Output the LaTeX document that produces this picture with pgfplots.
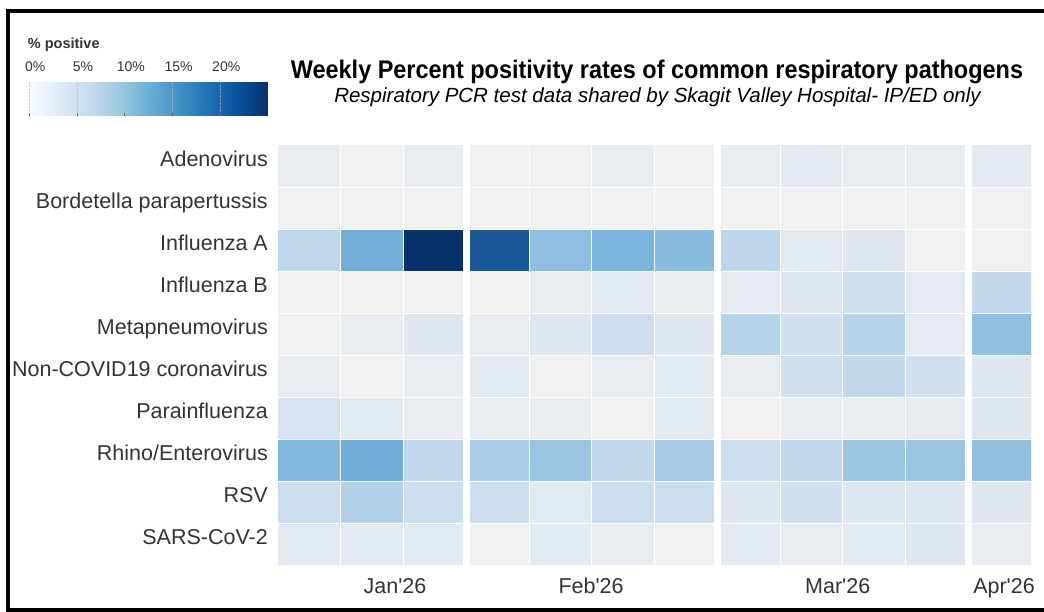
\documentclass[border=0pt]{standalone}
\usepackage{pgfplots}
\pgfplotsset{compat=1.18}
\usepackage{pgfplotstable}
\usepackage{fontspec}
\setmainfont{Liberation Sans}
\newfontfamily\titlefam{Liberation Sans}[FakeStretch=0.92]

\pgfplotstableread{
x y v
0 0 1
1 0 0
2 0 1
3 0 0
4 0 0
5 0 1
6 0 0
7 0 1
8 0 1.5
9 0 1
10 0 1
11 0 1.5
0 1 0
1 1 0
2 1 0
3 1 0
4 1 0
5 1 0
6 1 0
7 1 0
8 1 0
9 1 0
10 1 0
11 1 0
0 2 6.5
1 2 12.8
2 2 25
3 2 21
4 2 10.3
5 2 12
6 2 10.9
7 2 7
8 2 1.5
9 2 2
10 2 0
11 2 0
0 3 0
1 3 0
2 3 0
3 3 0
4 3 1
5 3 1.5
6 3 0.8
7 3 1.3
8 3 2
9 3 4
10 3 1.3
11 3 6
0 4 0
1 4 1
2 4 2
3 4 1
4 4 2
5 4 4.5
6 4 2
7 4 7.5
8 4 4
9 4 7.5
10 4 1.3
11 4 10.2
0 5 1
1 5 0
2 5 1
3 5 1.5
4 5 0
5 5 1
6 5 1.5
7 5 1
8 5 4
9 5 6
10 5 4
11 5 2
0 6 3
1 6 1.5
2 6 1
3 6 1
4 6 1
5 6 0
6 6 1.5
7 6 0
8 6 1
9 6 1
10 6 1.2
11 6 2
0 7 11.6
1 7 13
2 7 6.2
3 7 8.3
4 7 9.5
5 7 6.2
6 7 8.4
7 7 5
8 7 6.2
9 7 9.3
10 7 9.3
11 7 10.2
0 8 5
1 8 7.8
2 8 5
3 8 5
4 8 1.7
5 8 5
6 8 5
7 8 2
8 8 4
9 8 2
10 8 2
11 8 2
0 9 1.5
1 9 1.5
2 9 1.5
3 9 0
4 9 1.5
5 9 1
6 9 0
7 9 1.5
8 9 1
9 9 1.5
10 9 2
11 9 1
}\heat

\begin{document}
\begin{tikzpicture}
% frame
\draw[line width=4pt, black] (1100pt,-11pt) -- (8pt,-11pt) -- (8pt,-610pt) -- (1100pt,-610pt);

% titles
\node[anchor=base, inner sep=0pt, font=\titlefam\bfseries\fontsize{25.5}{30}\selectfont] at (657pt,-78.3pt)
  {Weekly Percent positivity rates of common respiratory pathogens};
\node[anchor=base, inner sep=0pt, font=\itshape\fontsize{20.5}{24}\selectfont] at (657.5pt,-102.7pt)
  {Respiratory PCR test data shared by Skagit Valley Hospital- IP/ED only};
\node[anchor=base west, inner sep=0pt, text=black!80, font=\bfseries\fontsize{14.5}{17}\selectfont] at (27.7pt,-48.3pt) {\% positive};

% heatmap
\begin{axis}[
  at={(278pt,-565pt)}, anchor=south west,
  scale only axis, width=753pt, height=420pt,
  xmin=-0.5, xmax=11.5, ymin=-0.5, ymax=9.5, y dir=reverse,
  axis line style={draw=none},
  xtick={1.365,4.49,8.42,11.07},
  xticklabels={Jan\textquotesingle26,Feb\textquotesingle26,Mar\textquotesingle26,Apr\textquotesingle26},
  ytick={0,1,2,3,4,5,6,7,8,9},
  yticklabels={Adenovirus,Bordetella parapertussis,Influenza A,Influenza B,Metapneumovirus,Non-COVID19 coronavirus,Parainfluenza,Rhino/Enterovirus,RSV,SARS-CoV-2},
  major tick length=0pt, minor tick length=0pt,
  minor xtick={0.5,1.5,3.5,4.5,5.5,7.5,8.5,9.5},
  minor ytick={0.5,1.5,2.5,3.5,4.5,5.5,6.5,7.5,8.5},
  xminorgrids, yminorgrids,
  minor grid style={white, line width=1pt},
  extra x ticks={2.5,6.5,10.5}, extra x tick labels={},
  extra x tick style={xmajorgrids, major grid style={white, line width=7pt}},
  axis on top,
  xticklabel style={anchor=base, yshift=-28pt, inner sep=0pt, text=black!80, font=\fontsize{21.5}{25}\selectfont},
  yticklabel style={anchor=base east, inner sep=0pt, xshift=-10pt, yshift=-0.5pt, text=black!80, font=\fontsize{21.5}{25}\selectfont},
  colormap={tiles}{rgb255(0)=(240,240,240) rgb255(2)=(232,236,240) rgb255(3)=(227,233,241)
    rgb255(4)=(223,230,239) rgb255(6)=(214,226,239) rgb255(8)=(208,224,239) rgb255(10)=(204,221,238)
    rgb255(12)=(194,216,236) rgb255(14)=(189,214,236) rgb255(16)=(175,208,232) rgb255(18)=(160,198,228)
    rgb255(20)=(148,192,225) rgb255(22)=(136,186,222) rgb255(24)=(123,181,219) rgb255(26)=(112,174,215)
    rgb255(32)=(60,130,190) rgb255(40)=(29,90,154) rgb255(42)=(27,88,152) rgb255(50)=(8,48,107)},
  point meta min=0, point meta max=25,
]
\addplot[matrix plot*, mesh/cols=12, point meta=explicit] table[x=x, y=y, meta=v] {\heat};
\end{axis}

% legend colour bar
\begin{axis}[
  at={(29.3pt,-116pt)}, anchor=south west,
  scale only axis, width=238.7pt, height=34pt,
  xmin=0, xmax=25, ymin=0, ymax=1,
  axis line style={draw=none},
  ytick=\empty,
  xtick={0,5,10,15,20},
  xticklabels={0\%,5\%,10\%,15\%,20\%},
  xtick pos=left, xticklabel pos=right,
  major tick length=2.5pt,
  tick style={black!60, line width=0.6pt},
  xmajorgrids, major grid style={gray!55, densely dotted, line width=0.4pt, opacity=0.7},
  axis on top,
  xticklabel style={anchor=base, yshift=10.3pt, xshift=6pt, inner sep=0pt, text=black!80, font=\fontsize{14}{16}\selectfont},
  colormap={legblues}{rgb255(0)=(247,251,255) rgb255(1)=(222,235,247) rgb255(2)=(198,219,239)
    rgb255(3)=(158,202,225) rgb255(4)=(107,174,214) rgb255(5)=(66,146,198) rgb255(6)=(33,113,181)
    rgb255(7)=(8,81,156) rgb255(8)=(8,48,107)},
  point meta min=0, point meta max=25,
]
\addplot[surf, shader=interp, point meta=x, mesh/cols=9] coordinates {
(0,0) (3.125,0) (6.25,0) (9.375,0) (12.5,0) (15.625,0) (18.75,0) (21.875,0) (25,0)
(0,1) (3.125,1) (6.25,1) (9.375,1) (12.5,1) (15.625,1) (18.75,1) (21.875,1) (25,1)
};
\end{axis}

\pgfresetboundingbox
\useasboundingbox (0pt,0pt) rectangle (1044pt,-612pt);
\end{tikzpicture}
\end{document}
